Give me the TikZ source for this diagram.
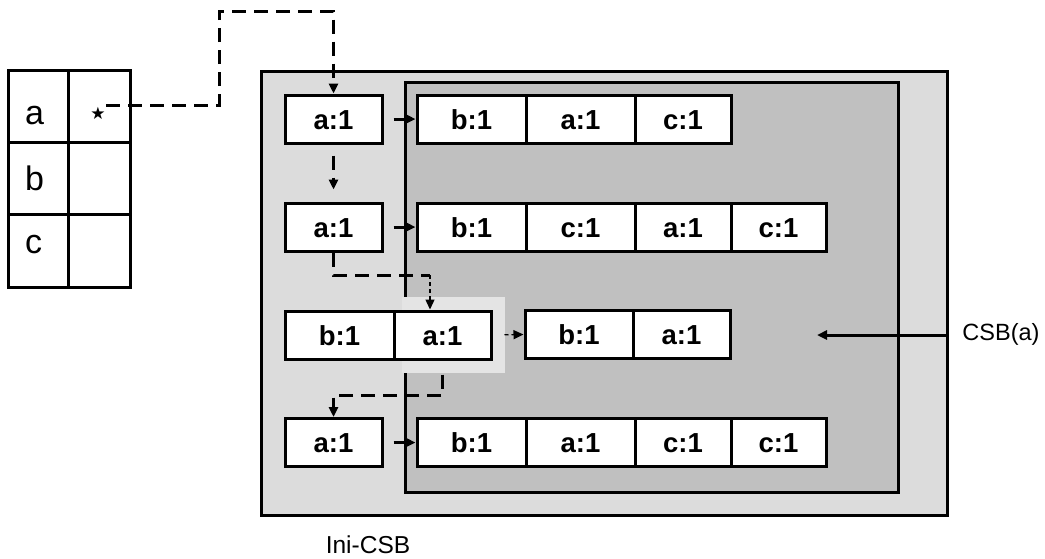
\documentclass[tikz,border=0pt]{standalone}
\usepackage{fontspec}
\setmainfont{Liberation Sans}
\newfontfamily\symfont{DejaVu Sans}
\usetikzlibrary{arrows.meta,calc}
\definecolor{outerfill}{HTML}{DCDCDC}
\definecolor{innerfill}{HTML}{C0C0C0}
\definecolor{hifill}{HTML}{E4E4E4}
\begin{document}
\begin{tikzpicture}[x=1pt,y=-1pt,
  cell/.style={draw, fill=white, line width=3pt, inner sep=0pt, minimum height=48pt,
    text height=20pt, text depth=0pt, font=\fontsize{27.5}{27.5}\selectfont\bfseries},
  wA/.style={cell, minimum width=97pt},
  wB/.style={cell, minimum width=109pt},
  wC/.style={cell, minimum width=96pt},
  tcell/.style={draw, fill=white, line width=3pt, inner sep=0pt, minimum height=72.5pt},
  letter/.style={inner sep=0pt, anchor=base west, font=\fontsize{34}{34}\selectfont},
  tip/.style={-{Triangle[length=10pt,width=9pt]}},
  thickdash/.style={tip, line width=3pt, dash pattern=on 14pt off 8pt},
  thindash/.style={tip, line width=1.3pt, dash pattern=on 4pt off 3pt},
  solidarrow/.style={tip, line width=3pt},
  plain/.style={inner sep=0pt}
]
\useasboundingbox (0,0) rectangle (1045,558);

% Table
\node[tcell, minimum width=60pt] (ta) at (38,106.5) {};
\node[tcell, minimum width=62pt] (tas) at (99,106.5) {};
\node[tcell, minimum width=60pt] (tb) at (38,179) {};
\node[tcell, minimum width=62pt] (tbs) at (99,179) {};
\node[tcell, minimum width=60pt] (tc) at (38,251) {};
\node[tcell, minimum width=62pt] (tcs) at (99,251) {};
\node[letter] (la) at (25,124) {a};
\node[letter] (lb) at (25,190) {b};
\node[letter] (lc) at (25,253) {c};
\node[plain, font=\symfont\fontsize{17}{17}\selectfont] (star) at (98,113) {★};
\coordinate (s0) at (106,105);
\coordinate (k1) at (219,11);

% Boxes
\node[draw, fill=outerfill, line width=3pt, minimum width=686pt, minimum height=444pt, inner sep=0pt] (ini) at (604,293) {};
\node[draw, fill=innerfill, line width=3pt, minimum width=493pt, minimum height=410pt, inner sep=0pt] (csbbox) at (651.5,287) {};
\fill[hifill] (402,297) rectangle (505,373);

% Row 1
\node[wA] (a1) at (333.5,119) {a:1};
\node[wB] (r1b) at (471.5,119) {b:1};
\node[wB] (r1a) at (580.5,119) {a:1};
\node[wC] (r1c) at (683,119) {c:1};
% Row 2
\node[wA] (a2) at (333.5,227) {a:1};
\node[wB] (r2b) at (471.5,227) {b:1};
\node[wB] (r2c) at (580.5,227) {c:1};
\node[wC] (r2a) at (683,227) {a:1};
\node[wC, minimum width=95pt] (r2c2) at (778.5,227) {c:1};
% Row 3
\node[wB] (l3b) at (339.5,335) {b:1};
\node[wA] (l3a) at (442.5,335) {a:1};
\node[wB, minimum width=108pt] (r3b) at (579,334.5) {b:1};
\node[wA] (r3a) at (681.5,334.5) {a:1};
% Row 4
\node[wA] (a4) at (333.5,442.5) {a:1};
\node[wB] (r4b) at (471.5,442.5) {b:1};
\node[wB] (r4a) at (580.5,442.5) {a:1};
\node[wC] (r4c) at (683,442.5) {c:1};
\node[wC, minimum width=95pt] (r4c2) at (778.5,442.5) {c:1};

% Labels
\node[plain, font=\fontsize{24.5}{24.5}\selectfont] (inilabel) at (368,545) {Ini-CSB};
\node[plain, font=\fontsize{23.5}{23.5}\selectfont] (csblabel) at (1001,334) {CSB(a)};
\coordinate (csbtip) at (817,335);

% Solid arrows
\draw[solidarrow, shorten <=10pt] (a1.east) -- (r1b.west);
\draw[solidarrow, shorten <=10pt] (a2.east) -- (r2b.west);
\draw[solidarrow, shorten <=10pt] (a4.east) -- (r4b.west);
\draw[solidarrow] (ini.east |- csbtip) -- (csbtip);

% Dashed connectors
\draw[thickdash] (s0) -| (k1) -| (a1.north);
\draw[thickdash, shorten <=11pt, shorten >=12pt] (a1.south) -- (a2.north);
\coordinate (k3) at (430,275);
\draw[line width=3pt, dash pattern=on 14pt off 8pt] (a2.south) |- (k3);
\draw[thindash] (k3) -- (k3 |- l3a.north);
\draw[thindash, shorten <=12pt] (l3a.east) -- (r3b.west);
\coordinate (k5) at (333.5,395);
\draw[thickdash, shorten <=14pt] (l3a.south) |- (k5) -- (a4.north);
\end{tikzpicture}
\end{document}
